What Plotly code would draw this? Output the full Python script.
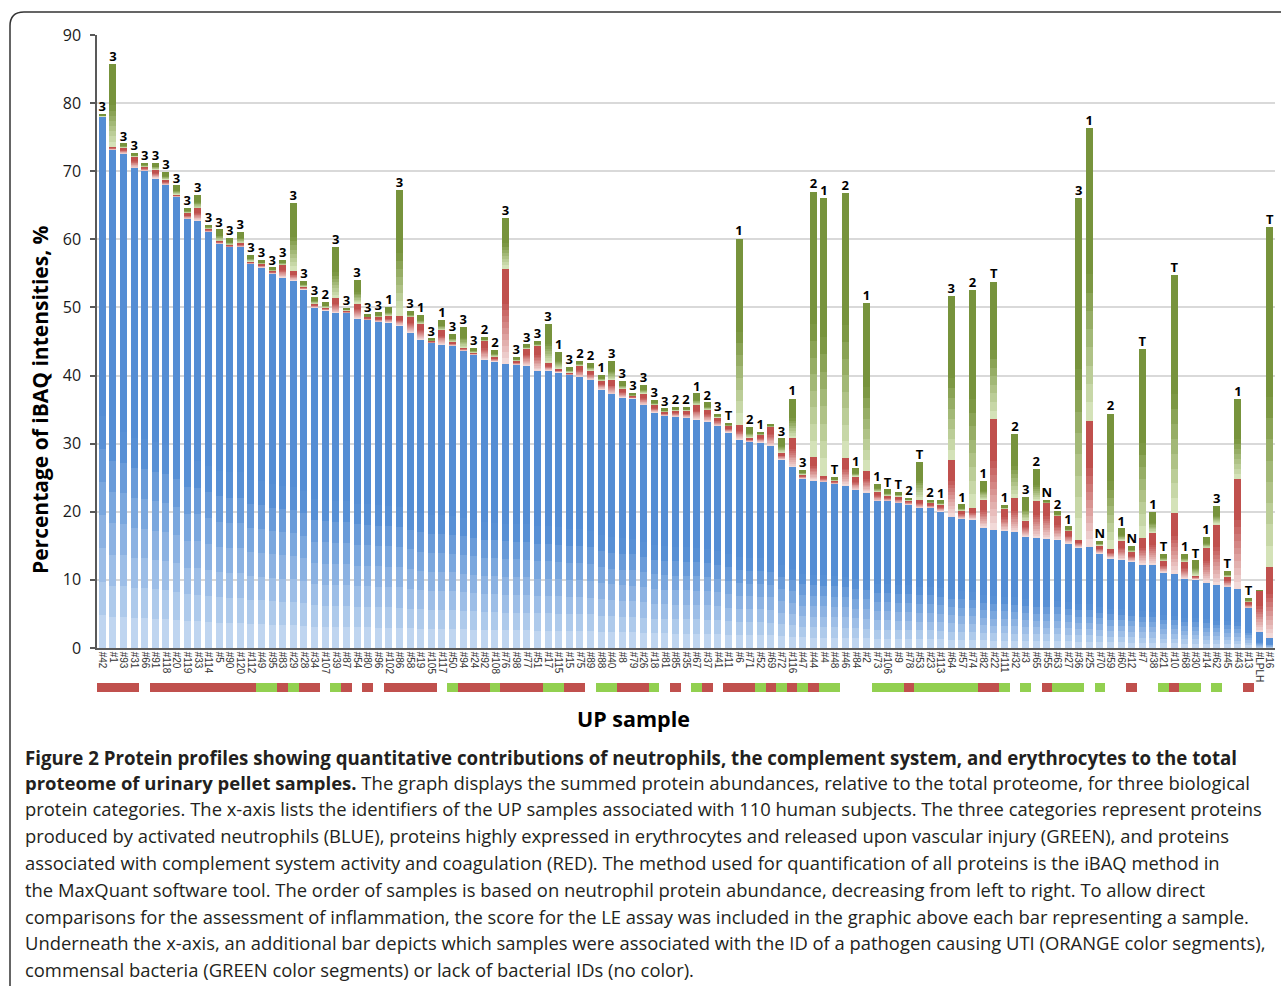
import plotly.graph_objects as go

# ---------------- data ----------------
samples = ["#42", "#1", "#93", "#31", "#66", "#91", "#118", "#20", "#119", "#33",
           "#114", "#5", "#90", "#120", "#112", "#49", "#95", "#83", "#29", "#28",
           "#34", "#107", "#39", "#87", "#54", "#80", "#96", "#102", "#86", "#58",
           "#19", "#105", "#117", "#50", "#94", "#24", "#92", "#108", "#76", "#98",
           "#77", "#51", "#17", "#115", "#15", "#75", "#89", "#88", "#40", "#8",
           "#79", "#26", "#18", "#81", "#85", "#35", "#67", "#37", "#41", "#11",
           "#6", "#71", "#52", "#69", "#72", "#116", "#47", "#44", "#4", "#48",
           "#46", "#84", "#2", "#73", "#106", "#9", "#78", "#53", "#23", "#113",
           "#64", "#57", "#74", "#82", "#22", "#111", "#32", "#3", "#65", "#55",
           "#63", "#27", "#36", "#25", "#70", "#59", "#60", "#12", "#7", "#38",
           "#21", "#10", "#68", "#30", "#14", "#62", "#45", "#43", "#13", "#LPLH",
           "#16"]

neutrophil = [78.0, 73.2, 72.6, 70.5, 70.1, 69.0, 68.0, 66.3, 63.0, 62.8,
              61.1, 59.4, 58.9, 58.9, 56.4, 55.9, 55.0, 54.4, 54.0, 52.7,
              50.0, 49.6, 49.2, 49.2, 48.4, 48.2, 47.9, 47.8, 47.4, 46.3,
              45.3, 44.8, 44.6, 44.4, 43.7, 43.1, 42.3, 42.1, 41.7, 41.6,
              41.5, 40.8, 40.8, 40.5, 40.1, 39.8, 39.4, 38.0, 37.3, 36.8,
              36.7, 35.7, 34.6, 34.1, 34.0, 33.8, 33.6, 33.3, 32.6, 31.7,
              30.6, 30.3, 30.2, 29.7, 27.7, 26.6, 24.9, 24.6, 24.4, 24.1,
              23.9, 23.2, 22.9, 21.6, 21.6, 21.3, 21.1, 20.6, 20.6, 20.1,
              19.3, 19.0, 18.9, 17.7, 17.3, 17.2, 17.0, 16.3, 16.1, 16.0,
              15.9, 15.4, 14.8, 14.8, 13.9, 13.2, 13.0, 12.7, 12.3, 12.2,
              11.1, 10.9, 10.2, 10.1, 9.6, 9.2, 9.0, 8.7, 5.9, 2.3,
              1.5]

complement = [0.1, 0.4, 0.9, 1.7, 0.6, 1.3, 0.8, 0.3, 0.9, 1.8,
              0.5, 0.4, 0.3, 0.6, 0.4, 0.5, 0.4, 1.9, 1.4, 0.4,
              0.6, 0.4, 2.2, 0.4, 2.2, 0.4, 0.7, 1.0, 1.3, 2.3,
              2.3, 0.3, 2.1, 0.6, 0.4, 0.3, 2.8, 0.7, 14.0, 0.6,
              2.5, 3.6, 1.0, 0.5, 0.4, 1.7, 1.4, 1.3, 2.1, 1.3,
              0.3, 1.7, 1.1, 0.6, 0.9, 1.1, 2.1, 1.7, 1.3, 0.9,
              2.2, 0.6, 1.1, 2.8, 1.0, 4.2, 0.6, 3.4, 0.9, 0.5,
              4.0, 2.0, 3.1, 1.4, 0.8, 1.0, 0.6, 1.2, 0.7, 1.0,
              8.3, 1.2, 1.7, 4.1, 16.3, 3.3, 5.0, 2.4, 5.6, 5.3,
              3.5, 1.8, 1.1, 18.6, 1.2, 1.4, 2.8, 1.4, 3.9, 4.7,
              1.7, 8.9, 2.5, 0.6, 5.1, 9.0, 1.5, 16.1, 0.9, 6.1,
              10.4]

erythrocyte = [0.2, 12.1, 0.5, 0.4, 0.5, 0.9, 1.05, 1.25, 0.6, 1.9,
               0.5, 1.6, 0.9, 1.5, 0.9, 0.5, 0.4, 0.6, 9.9, 0.7,
               0.8, 0.7, 7.5, 0.3, 3.4, 0.3, 0.6, 1.2, 18.5, 0.8,
               1.2, 0.3, 1.4, 1.0, 3.0, 0.6, 0.5, 0.9, 7.4, 0.5,
               0.5, 0.6, 5.7, 2.4, 0.7, 0.6, 1.0, 0.7, 2.7, 1.0,
               0.4, 1.2, 0.7, 0.4, 0.4, 0.4, 1.6, 1.0, 0.4, 0.4,
               27.3, 1.5, 0.4, 0.3, 2.0, 5.8, 0.6, 39.0, 40.7, 0.4,
               38.9, 1.1, 24.6, 1.0, 0.8, 0.6, 0.3, 5.5, 0.4, 0.5,
               24.1, 0.8, 31.9, 2.7, 20.2, 0.4, 9.4, 3.4, 4.6, 0.4,
               0.6, 0.6, 50.1, 42.9, 0.6, 19.8, 1.7, 0.8, 27.7, 3.1,
               1.0, 34.9, 1.1, 2.1, 1.5, 2.6, 0.7, 11.7, 0.5, 0.1,
               49.9]

le_score = ["3", "3", "3", "3", "3", "3", "3", "3", "3", "3",
            "3", "3", "3", "3", "3", "3", "3", "3", "3", "3",
            "3", "2", "3", "3", "3", "3", "3", "1", "3", "3",
            "1", "3", "1", "3", "3", "3", "2", "2", "3", "3",
            "3", "3", "3", "1", "3", "2", "2", "1", "3", "3",
            "3", "3", "3", "3", "2", "2", "1", "2", "3", "T",
            "1", "2", "1", "", "3", "1", "3", "2", "1", "T",
            "2", "1", "1", "1", "T", "T", "2", "T", "2", "1",
            "3", "1", "2", "1", "T", "1", "2", "3", "2", "N",
            "2", "1", "3", "1", "N", "2", "1", "N", "T", "1",
            "T", "T", "1", "T", "1", "3", "T", "1", "T", "",
            "T"]

# P = pathogen ID, C = commensal bacteria, "" = no bacterial ID
bacteria = ["P", "P", "P", "P", "", "P", "P", "P", "P", "P",
            "P", "P", "P", "P", "P", "C", "C", "P", "C", "P",
            "P", "", "C", "P", "", "P", "", "P", "P", "P",
            "P", "P", "", "C", "P", "P", "P", "C", "P", "P",
            "P", "P", "C", "C", "P", "P", "", "C", "C", "P",
            "P", "P", "C", "", "P", "", "C", "P", "", "P",
            "P", "P", "C", "P", "C", "P", "C", "P", "C", "C",
            "", "", "", "C", "C", "C", "P", "C", "C", "C",
            "C", "C", "C", "P", "P", "C", "", "C", "", "P",
            "C", "C", "C", "", "C", "", "", "P", "", "",
            "C", "P", "C", "C", "", "C", "", "", "P", "",
            ""]

y_ticks = [0, 10, 20, 30, 40, 50, 60, 70, 80, 90]

caption_lines = [
    "<b>Figure 2 Protein profiles showing quantitative contributions of neutrophils, the complement system, and erythrocytes to the total</b>",
    "<b>proteome of urinary pellet samples.</b> The graph displays the summed protein abundances, relative to the total proteome, for three biological",
    "protein categories. The x-axis lists the identifiers of the UP samples associated with 110 human subjects. The three categories represent proteins",
    "produced by activated neutrophils (BLUE), proteins highly expressed in erythrocytes and released upon vascular injury (GREEN), and proteins",
    "associated with complement system activity and coagulation (RED). The method used for quantification of all proteins is the iBAQ method in",
    "the MaxQuant software tool. The order of samples is based on neutrophil protein abundance, decreasing from left to right. To allow direct",
    "comparisons for the assessment of inflammation, the score for the LE assay was included in the graphic above each bar representing a sample.",
    "Underneath the x-axis, an additional bar depicts which samples were associated with the ID of a pathogen causing UTI (ORANGE color segments),",
    "commensal bacteria (GREEN color segments) or lack of bacterial IDs (no color).",
]

# ---------------- layout geometry (pixels) ----------------
W, H = 1281, 986
ML, MR, MT, MB = 97, 6, 35, 294
PW = W - ML - MR
PH = H - MT - MB


def px_x(x):
    return (x - ML) / PW


def px_y(y):
    return (H - MB - y) / PH


main_bottom = px_y(648)
strip_top = px_y(683)


def mix(c0, c1, t):
    return "rgb(%d,%d,%d)" % tuple(round(a + (b - a) * t) for a, b in zip(c0, c1))


K = 16
series = [
    (neutrophil, (200, 219, 242), (84, 141, 212), 0.42),
    (complement, (244, 224, 223), (192, 80, 77), 0.65),
    (erythrocyte, (218, 231, 192), (119, 147, 60), 0.5),
]

fig = go.Figure()
for vals, light, dark, span in series:
    for k in range(K):
        f = (k + 0.5) / K
        col = mix(light, dark, min(1.0, f / span))
        fig.add_trace(go.Bar(
            x=samples, y=[v / K for v in vals],
            marker=dict(color=col, line=dict(width=0)),
            hoverinfo="skip", showlegend=False,
            xaxis="x", yaxis="y",
        ))

totals = [a + b + c for a, b, c in zip(neutrophil, complement, erythrocyte)]
fig.add_trace(go.Scatter(
    x=samples, y=totals, text=le_score, mode="text",
    textposition="top center",
    textfont=dict(family="Open Sans", size=13, color="#000000", weight="bold"),
    cliponaxis=False, hoverinfo="skip", showlegend=False,
    xaxis="x", yaxis="y",
))

# bacterial ID strip
fig.add_trace(go.Bar(
    x=samples, y=[1 if b == "P" else None for b in bacteria], width=1,
    marker=dict(color="#c0504d", line=dict(width=0)),
    hoverinfo="skip", showlegend=False, xaxis="x2", yaxis="y2",
))
fig.add_trace(go.Bar(
    x=samples, y=[1 if b == "C" else None for b in bacteria], width=1,
    marker=dict(color="#92d050", line=dict(width=0)),
    hoverinfo="skip", showlegend=False, xaxis="x2", yaxis="y2",
))

annotations = [
    dict(text="<b>Percentage of iBAQ intensities, %</b>", textangle=-90,
         x=px_x(40), y=px_y(400), xref="paper", yref="paper",
         xanchor="center", yanchor="middle",
         showarrow=False, font=dict(family="Open Sans", size=21, color="#000000")),
    dict(text="<b>UP sample</b>",
         x=px_x(633), y=px_y(718), xref="paper", yref="paper",
         xanchor="center", yanchor="middle",
         showarrow=False, font=dict(family="Open Sans", size=21.5, color="#000000")),
]
line_y = [757, 782, 808, 835, 862, 889, 916, 942, 969]
line_size = [18.7, 18.5, 18.4, 18.4, 18.4, 18.4, 18.4, 18.4, 18.4]
for txt, ly, fs in zip(caption_lines, line_y, line_size):
    annotations.append(dict(
        text=txt, x=px_x(23), y=px_y(ly), xref="paper", yref="paper",
        xanchor="left", yanchor="middle", showarrow=False,
        font=dict(family="Open Sans", size=fs, color="#231f20"),
    ))

r = 14
border_path = "M {x0},{yb} L {x0},{y1} Q {x0},{yt} {x1},{yt} L {xr},{yt}".format(
    x0=px_x(10), yb=px_y(995), y1=px_y(12 + r), yt=px_y(12),
    x1=px_x(10 + r), xr=px_x(1295))

fig.update_layout(
    width=W, height=H,
    margin=dict(l=ML, r=MR, t=MT, b=MB),
    paper_bgcolor="white", plot_bgcolor="white",
    barmode="stack", bargap=0.34,
    font=dict(family="Open Sans", color="#000000"),
    xaxis=dict(domain=[0, 1], anchor="y", type="category",
               categoryorder="array", categoryarray=samples,
               tickmode="array", tickvals=samples, ticktext=samples,
               range=[-0.5, len(samples) - 0.5],
               tickangle=90, tickfont=dict(family="Liberation Sans", size=10, color="#333333"),
               showline=True, linecolor="#595959", linewidth=1.5,
               ticks="", showgrid=False, zeroline=False),
    yaxis=dict(domain=[main_bottom, 1], anchor="x", range=[0, 90],
               tickvals=y_ticks, showgrid=True, gridcolor="#d9d9d9", gridwidth=1.5,
               showline=True, linecolor="#595959", linewidth=1.5,
               ticks="outside", ticklen=5, tickcolor="#595959", tickwidth=1.5,
               ticklabelstandoff=6,
               tickfont=dict(family="Open Sans", size=16, color="#1a1a1a"),
               zeroline=False),
    xaxis2=dict(domain=[0, 1], anchor="y2", matches="x", type="category",
                showticklabels=False, showline=False, showgrid=False, ticks="",
                zeroline=False),
    yaxis2=dict(domain=[0, strip_top], anchor="x2", range=[0, 1], visible=False),
    annotations=annotations,
    shapes=[dict(type="path", path=border_path, xref="paper", yref="paper",
                 line=dict(color="#333333", width=1.5))],
)

fig.write_html(
    "out.html",
    config={"displayModeBar": False},
    post_script="document.body.style.margin='0';document.body.style.overflow='hidden';",
)
